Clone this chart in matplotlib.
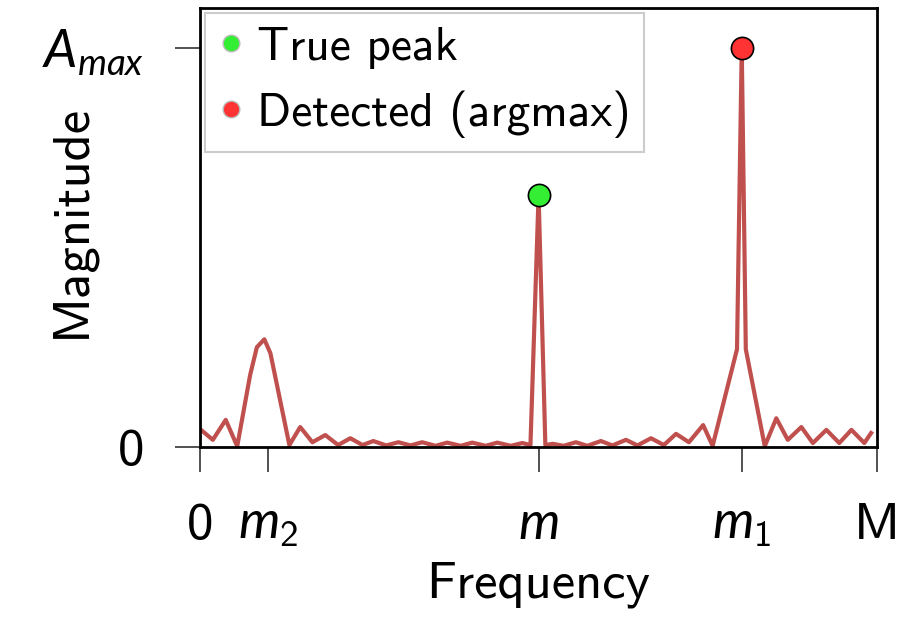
import matplotlib
matplotlib.use('Agg')
import matplotlib.pyplot as plt
from matplotlib.lines import Line2D

# Computer Modern Sans for text, a slanted sans for math symbols
plt.rcParams['font.family'] = ['cmss10', 'DejaVu Sans']
plt.rcParams['mathtext.fontset'] = 'custom'
plt.rcParams['mathtext.rm'] = 'cmss10'
plt.rcParams['mathtext.sf'] = 'cmss10'
plt.rcParams['mathtext.it'] = 'Lato:italic'
plt.rcParams['axes.unicode_minus'] = False

# spectrum (frequency in bins, M = 100)
freq = [0.0, 1.9, 3.8, 5.5, 7.4, 8.4, 9.5, 10.4, 13.2, 14.8, 16.6, 18.5, 20.4,
        22.2, 24.0, 25.6, 27.5, 29.3, 31.1, 32.8, 34.8, 36.5, 38.5, 40.2, 42.2,
        43.9, 45.9, 47.6, 48.8, 50.0, 51.0, 52.1, 53.7, 55.5, 57.2, 59.2, 60.9,
        62.9, 64.6, 66.6, 68.5, 70.3, 72.2, 74.3, 75.7, 79.3, 80.0, 80.6, 83.4,
        85.1, 86.8, 88.8, 90.5, 92.5, 94.4, 96.2, 98.1, 99.1]
magnitude = [0.045, 0.018, 0.068, 0.002, 0.18, 0.25, 0.27, 0.235, 0.005, 0.05,
             0.012, 0.03, 0.005, 0.022, 0.005, 0.015, 0.004, 0.012, 0.004, 0.012,
             0.003, 0.011, 0.003, 0.011, 0.003, 0.011, 0.003, 0.01, 0.005, 0.632,
             0.005, 0.008, 0.003, 0.012, 0.003, 0.015, 0.004, 0.018, 0.004, 0.022,
             0.005, 0.033, 0.012, 0.055, 0.003, 0.245, 1.0, 0.245, 0.002, 0.072,
             0.018, 0.05, 0.01, 0.043, 0.01, 0.043, 0.01, 0.035]

M = 100
m2, m, m1 = 10, 50, 80
true_peak = (50.0, 0.632)
detected_peak = (80.0, 1.0)
a_max = 1.0

xtick_pos = [0, m2, m, m1, M]
xtick_labels = ['0', r'$m_2$', r'$m$', r'$m_1$', 'M']
ytick_pos = [0, a_max]
ytick_labels = ['0', r'$A_{max}$']
legend_labels = ['True peak', 'Detected (argmax)']

line_color = '#c0504d'
green = '#33ee33'
red = '#ff3333'

fig = plt.figure(figsize=(9.09, 6.2), dpi=100)
ax = fig.add_axes([0.22, 0.279, 0.745, 0.708])

ax.plot(freq, magnitude, color=line_color, linewidth=3.0, zorder=2,
        solid_joinstyle='round')
ax.plot(*true_peak, 'o', color=green, markersize=16, markeredgecolor='black',
        markeredgewidth=1.2, zorder=4)
ax.plot(*detected_peak, 'o', color=red, markersize=16, markeredgecolor='black',
        markeredgewidth=1.2, zorder=4)

ax.set_xlim(0, M)
ax.set_ylim(0, 1.1)
ax.set_xticks(xtick_pos)
ax.set_xticklabels(xtick_labels)
ax.set_yticks(ytick_pos)
ax.set_yticklabels(ytick_labels)
ax.tick_params(axis='both', direction='out', length=18, width=1.2,
               color='#333333', labelsize=38, pad=22)

for s in ax.spines.values():
    s.set_linewidth(2.0)
    s.set_color('black')

ax.set_xlabel('Frequency', fontsize=38)
ax.set_ylabel('Magnitude', fontsize=38)
ax.xaxis.set_label_coords(0.5, -0.26)
ax.yaxis.set_label_coords(-0.155, 0.515)

handles = [
    Line2D([], [], linestyle='none', marker='o', markersize=12, color=green,
           markeredgecolor='#bbbbbb', markeredgewidth=1),
    Line2D([], [], linestyle='none', marker='o', markersize=12, color=red,
           markeredgecolor='#bbbbbb', markeredgewidth=1),
]
leg = ax.legend(handles, legend_labels, loc='upper left',
                fontsize=34, handlelength=0.5, handletextpad=0.3,
                borderaxespad=0.1, fancybox=False, framealpha=1,
                borderpad=0.3, labelspacing=0.45)
leg.get_frame().set_edgecolor('#cccccc')
leg.get_frame().set_linewidth(1.5)

fig.savefig('out.png', dpi=100)
